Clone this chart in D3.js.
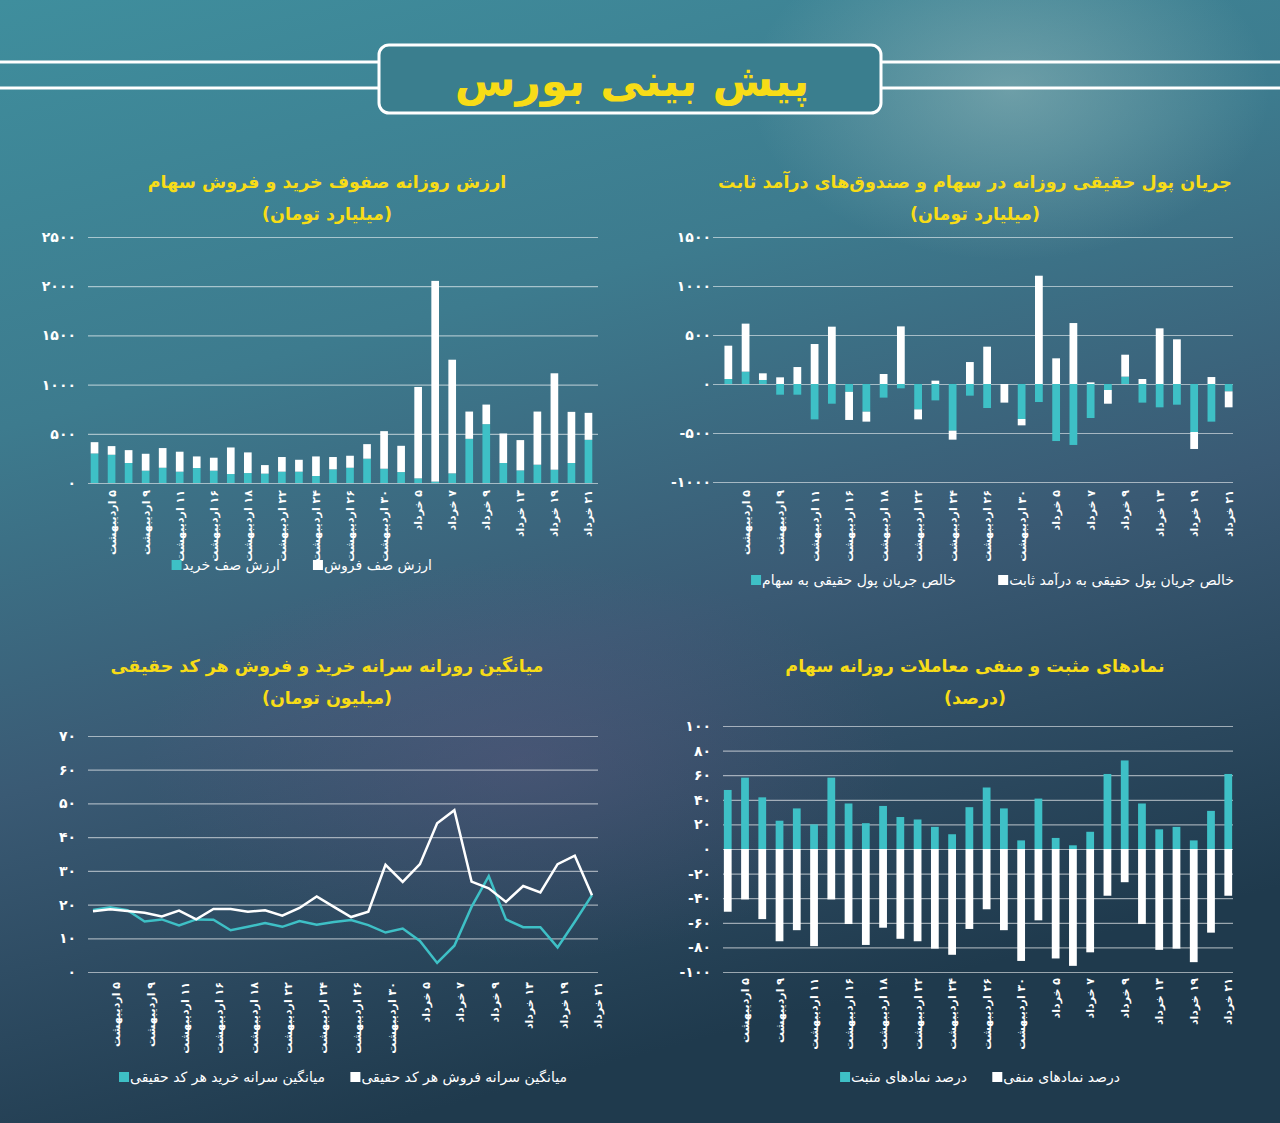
<!DOCTYPE html>
<html><head><meta charset="utf-8">
<script src="https://cdn.jsdelivr.net/npm/d3@7"></script>
<style>
body{margin:0;background:#2c5566;}
svg{display:block;font-family:"DejaVu Sans",sans-serif;}
</style></head><body>
<svg id="c" width="1280" height="1123"></svg>
<script>
const categories = ["۴ اردیبهشت","۵ اردیبهشت","۶ اردیبهشت","۹ اردیبهشت","۱۰ اردیبهشت","۱۱ اردیبهشت","۱۳ اردیبهشت","۱۶ اردیبهشت","۱۷ اردیبهشت","۱۸ اردیبهشت","۲۰ اردیبهشت","۲۲ اردیبهشت","۲۳ اردیبهشت","۲۴ اردیبهشت","۲۵ اردیبهشت","۲۶ اردیبهشت","۲۷ اردیبهشت","۳۰ اردیبهشت","۳ خرداد","۵ خرداد","۶ خرداد","۷ خرداد","۸ خرداد","۹ خرداد","۱۰ خرداد","۱۳ خرداد","۱۶ خرداد","۱۹ خرداد","۲۰ خرداد","۲۱ خرداد"];
// Chart 1: queue values (billion toman)
const buyQueue  = [300,287,203,125,155,115,152,125,91,101,95,115,115,71,139,155,247,145,111,47,14,98,449,598,203,128,186,135,203,439];
const sellQueue = [115,88,131,172,200,203,118,132,270,210,87,149,121,199,125,122,148,382,267,929,2040,1155,277,199,300,308,540,980,520,274];
// Chart 2: real money flow (billion toman)
const flowStocks = [51,126,41,-109,-109,-361,-201,-80,-282,-139,-44,-259,-167,-476,-119,-245,0,-357,-184,-582,-622,-347,-61,75,-190,-238,-211,-490,-384,-75];
const flowFixed  = [340,490,68,68,173,408,585,-287,-102,102,588,-102,34,-92,224,381,-190,-65,1105,262,622,17,-140,224,51,568,456,-173,71,-163];
// Chart 3: per-capita (million toman)
const perBuy  = [18.4,19.2,18.3,15.0,15.6,13.8,15.6,15.5,12.4,13.4,14.5,13.4,15.1,14.0,14.8,15.4,13.9,11.7,12.9,9.2,2.7,7.8,19.3,28.4,15.6,13.3,13.3,7.3,14.9,22.8];
const perSell = [18.0,18.6,18.1,17.6,16.5,18.2,15.6,18.7,18.7,17.9,18.3,16.7,19.0,22.4,19.3,16.3,17.9,31.8,26.7,32.0,44.1,48.0,26.8,24.8,20.8,25.5,23.6,32.0,34.5,22.8];
// Chart 4: positive / negative symbols (percent)
const posPct = [48,58,42,23,33,20,58,37,21,35,26,24,18,12,34,50,33,7,41,9,3,14,61,72,37,16,18,7,31,61];
const negPct = [-51,-41,-57,-75,-66,-79,-41,-61,-78,-64,-73,-75,-81,-86,-65,-49,-66,-91,-58,-89,-95,-84,-38,-27,-61,-82,-81,-92,-68,-38];
const ticks1 = [0,500,1000,1500,2000,2500];
const ticks2 = [-1000,-500,0,500,1000,1500];
const ticks3 = [0,10,20,30,40,50,60,70];
const ticks4 = [-100,-80,-60,-40,-20,0,20,40,60,80,100];

const TEAL="#3ec0c6", YEL="#f7dc17", WHITE="#ffffff";
const fa = n => String(n).replace(/\d/g,d=>"۰۱۲۳۴۵۶۷۸۹"[d]);
const svg = d3.select("#c");
const defs = svg.append("defs");
const lg = defs.append("linearGradient").attr("id","bg").attr("x1",0).attr("y1",0).attr("x2",0.3).attr("y2",1);
lg.append("stop").attr("offset","0").attr("stop-color","#3f8e9d");
lg.append("stop").attr("offset","0.35").attr("stop-color","#3d7b8e");
lg.append("stop").attr("offset","0.65").attr("stop-color","#3a5a74");
lg.append("stop").attr("offset","1").attr("stop-color","#1f3a4d");
svg.append("rect").attr("width",1280).attr("height",1123).attr("fill","url(#bg)");
const rg = defs.append("radialGradient").attr("id","glow");
rg.append("stop").attr("offset","0").attr("stop-color","#a8c6c4").attr("stop-opacity",0.45);
rg.append("stop").attr("offset","1").attr("stop-color","#a8c6c4").attr("stop-opacity",0);
svg.append("ellipse").attr("cx",1010).attr("cy",90).attr("rx",260).attr("ry",170).attr("fill","url(#glow)");
const rg2 = defs.append("radialGradient").attr("id","glow2");
rg2.append("stop").attr("offset","0").attr("stop-color","#6a5a86").attr("stop-opacity",0.35);
rg2.append("stop").attr("offset","1").attr("stop-color","#6a5a86").attr("stop-opacity",0);
svg.append("ellipse").attr("cx",520).attr("cy",760).attr("rx",380).attr("ry",200).attr("fill","url(#glow2)");

// Header
[62,88].forEach(y=>{
  svg.append("line").attr("x1",0).attr("x2",378).attr("y1",y).attr("y2",y).attr("stroke","#fff").attr("stroke-width",3);
  svg.append("line").attr("x1",882).attr("x2",1280).attr("y1",y).attr("y2",y).attr("stroke","#fff").attr("stroke-width",3);
});
svg.append("rect").attr("x",379).attr("y",45).attr("width",502).attr("height",68).attr("rx",10).attr("fill","#3a7e8e").attr("stroke","#fff").attr("stroke-width",3);
svg.append("text").attr("x",632).attr("y",96).attr("text-anchor","middle").attr("fill",YEL).attr("font-size",44).attr("font-weight","bold").attr("direction","rtl").text("پیش بینی بورس");

function titles(cx,y,t1,t2){
  svg.append("text").attr("x",cx).attr("y",y).attr("text-anchor","middle").attr("fill",YEL).attr("font-size",17.5).attr("font-weight","bold").attr("direction","rtl").text(t1);
  svg.append("text").attr("x",cx).attr("y",y+32).attr("text-anchor","middle").attr("fill",YEL).attr("font-size",17.5).attr("font-weight","bold").attr("direction","rtl").text(t2);
}
function legendItem(rightX,y,text,color){
  const t = svg.append("text").attr("x",rightX).attr("y",y).attr("text-anchor","start").attr("direction","rtl").attr("fill","#fff").attr("font-size",14).text(text);
  const w = t.node().getComputedTextLength();
  svg.append("rect").attr("x",rightX-w-11).attr("y",y-10).attr("width",10).attr("height",10).attr("fill",color);
}
function yAxis(y,ticks,x0,x1,labelX){
  const g = svg.append("g").attr("transform",`translate(${x0},0)`)
    .call(d3.axisLeft(y).tickValues(ticks).tickSize(-(x1-x0)).tickFormat(""));
  g.select(".domain").remove();
  g.selectAll("line").attr("stroke","rgba(255,255,255,0.55)").attr("stroke-width",1.2);
  ticks.forEach(v=>{
    svg.append("text").attr("x",labelX).attr("y",y(v)+5).attr("text-anchor","end").attr("fill","#fff").attr("font-size",14).attr("font-weight","bold").text((v<0?"-":"")+fa(Math.abs(v)));
  });
}
function xLabels(xf,yTop){
  categories.forEach((c,i)=>{
    if(i%2!==1) return;
    svg.append("text").attr("transform",`translate(${xf(i)+4},${yTop}) rotate(-90)`)
      .attr("direction","rtl").attr("text-anchor","start").attr("fill","#fff").attr("font-size",11).attr("font-weight","bold").text(c);
  });
}

// Chart 1
{
  const x = d3.scaleBand().domain(d3.range(30)).range([89,594]).paddingInner(0.55).paddingOuter(0.1);
  const y = d3.scaleLinear().domain([0,2500]).range([483,237]);
  yAxis(y,ticks1,88,598,76);
  const data = d3.range(30).map(i=>({buy:buyQueue[i],sell:sellQueue[i]}));
  const st = d3.stack().keys(["buy","sell"])(data);
  const cols={buy:TEAL,sell:WHITE};
  st.forEach(s=>svg.append("g").selectAll("rect").data(s).join("rect")
    .attr("x",(d,i)=>x(i)).attr("width",x.bandwidth()).attr("y",d=>y(d[1])).attr("height",d=>y(d[0])-y(d[1])).attr("fill",cols[s.key]));
  xLabels(i=>x(i)+x.bandwidth()/2,490);
  titles(327,188,"ارزش روزانه صفوف خرید و فروش سهام","(میلیارد تومان)");
  legendItem(432,570,"ارزش صف فروش",WHITE);
  legendItem(280,570,"ارزش صف خرید",TEAL);
}
// Chart 2
{
  const x = d3.scaleBand().domain(d3.range(30)).range([721,1236]).paddingInner(0.55).paddingOuter(0.2);
  const y = d3.scaleLinear().domain([-1000,1500]).range([482,237]);
  yAxis(y,ticks2,713,1233,711);
  const data = d3.range(30).map(i=>({s:flowStocks[i],f:flowFixed[i]}));
  const st = d3.stack().keys(["s","f"]).offset(d3.stackOffsetDiverging)(data);
  const cols={s:TEAL,f:WHITE};
  st.forEach(s=>svg.append("g").selectAll("rect").data(s).join("rect")
    .attr("x",(d,i)=>x(i)).attr("width",x.bandwidth()).attr("y",d=>y(Math.max(d[0],d[1]))).attr("height",d=>Math.abs(y(d[0])-y(d[1]))).attr("fill",cols[s.key]));
  xLabels(i=>x(i)+x.bandwidth()/2,490);
  titles(975,188,"جریان پول حقیقی روزانه در سهام و صندوق‌های درآمد ثابت","(میلیارد تومان)");
  legendItem(1234,585,"خالص جریان پول حقیقی به درآمد ثابت",WHITE);
  legendItem(956,585,"خالص جریان پول حقیقی به سهام",TEAL);
}
// Chart 3
{
  const x = d3.scalePoint().domain(d3.range(30)).range([93,592]);
  const y = d3.scaleLinear().domain([0,70]).range([972,736]);
  yAxis(y,ticks3,88,598,76);
  const line = d3.line().x((d,i)=>x(i)).y(d=>y(d));
  svg.append("path").datum(perBuy).attr("d",line).attr("fill","none").attr("stroke",TEAL).attr("stroke-width",2.5);
  svg.append("path").datum(perSell).attr("d",line).attr("fill","none").attr("stroke",WHITE).attr("stroke-width",2.5);
  xLabels(i=>x(i)+6,982);
  titles(327,672,"میانگین روزانه سرانه خرید و فروش هر کد حقیقی","(میلیون تومان)");
  legendItem(567,1082,"میانگین سرانه فروش هر کد حقیقی",WHITE);
  legendItem(325,1082,"میانگین سرانه خرید هر کد حقیقی",TEAL);
}
// Chart 4
{
  const x = d3.scaleBand().domain(d3.range(30)).range([723,1233]).paddingInner(0.55).paddingOuter(0.05);
  const y = d3.scaleLinear().domain([-100,100]).range([972,726]);
  yAxis(y,ticks4,723,1233,711);
  const data = d3.range(30).map(i=>({p:posPct[i],n:negPct[i]}));
  const st = d3.stack().keys(["p","n"]).offset(d3.stackOffsetDiverging)(data);
  const cols={p:TEAL,n:WHITE};
  st.forEach(s=>svg.append("g").selectAll("rect").data(s).join("rect")
    .attr("x",(d,i)=>x(i)).attr("width",x.bandwidth()).attr("y",d=>y(Math.max(d[0],d[1]))).attr("height",d=>Math.abs(y(d[0])-y(d[1]))).attr("fill",cols[s.key]));
  xLabels(i=>x(i)+x.bandwidth()/2,978);
  titles(975,672,"نمادهای مثبت و منفی معاملات روزانه سهام","(درصد)");
  legendItem(1120,1082,"درصد نمادهای منفی",WHITE);
  legendItem(967,1082,"درصد نمادهای مثبت",TEAL);
}
</script></body></html>
